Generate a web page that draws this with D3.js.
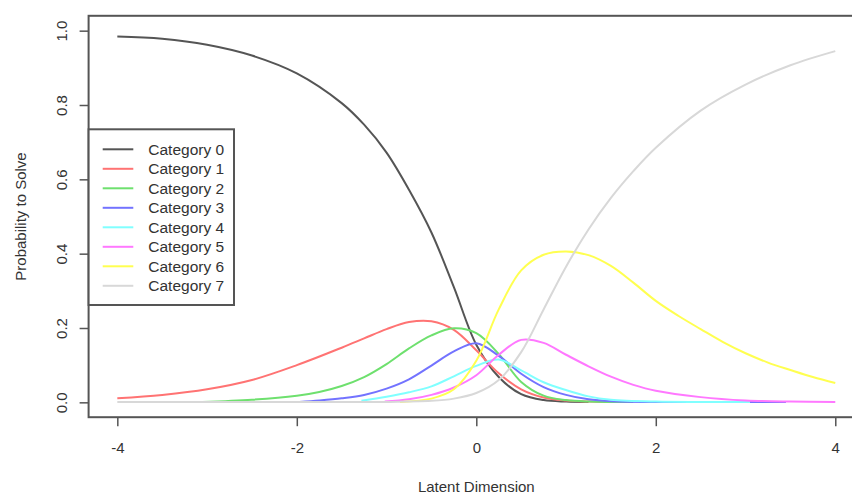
<!DOCTYPE html>
<html>
<head>
<meta charset="utf-8">
<script src="https://cdn.jsdelivr.net/npm/d3@7"></script>
<style>
  body { margin: 0; background: #fff; }
  svg text { font-family: "Liberation Sans", Arial, sans-serif; fill: #333; }
</style>
</head>
<body>
<svg width="852" height="496"></svg>
<script>
// category names and line colours
const categories = ["Category 0", "Category 1", "Category 2", "Category 3",
  "Category 4", "Category 5", "Category 6", "Category 7"];
const colors = ["#555555", "#ff7373", "#6ee06e", "#7373ff",
  "#80ffff", "#ff78ff", "#ffff50", "#d8d8d8"];

// values (theta, probability)
const cat0X = [-4, -3.5, -3, -2.5, -2, -1.5, -1.25, -1, -0.75, -0.5, -0.25, 0, 0.25, 0.5, 0.75, 1, 1.25];
const cat0Y = [0.984, 0.978, 0.962, 0.933, 0.885, 0.805, 0.747, 0.672, 0.572, 0.457, 0.31, 0.155, 0.068, 0.022, 0.006, 0.002, 0.001];

const cat1X = [-4, -3.5, -3, -2.5, -2, -1.5, -1.25, -1, -0.75, -0.5, -0.25, 0, 0.25, 0.5, 0.75, 1, 1.25, 1.5];
const cat1Y = [0.011, 0.02, 0.035, 0.06, 0.1, 0.147, 0.172, 0.197, 0.216, 0.218, 0.195, 0.14, 0.078, 0.035, 0.013, 0.005, 0.002, 0.001];

const cat2X = [-3.05, -2.5, -2, -1.75, -1.5, -1.25, -1, -0.75, -0.5, -0.25, 0, 0.25, 0.5, 0.75, 1, 1.25, 1.5, 1.75];
const cat2Y = [0.001, 0.007, 0.018, 0.028, 0.044, 0.068, 0.103, 0.145, 0.18, 0.199, 0.186, 0.13, 0.055, 0.018, 0.006, 0.002, 0.001, 0.001];

const cat3X = [-1.97, -1.75, -1.5, -1.25, -1, -0.75, -0.5, -0.25, 0, 0.25, 0.5, 0.75, 1, 1.25, 1.5, 2, 2.5, 3, 3.45];
const cat3Y = [0.001, 0.005, 0.011, 0.02, 0.037, 0.062, 0.099, 0.137, 0.159, 0.125, 0.077, 0.041, 0.02, 0.008, 0.003, 0.001, 0.001, 0.001, 0.001];

const cat4X = [-1.28, -1, -0.75, -0.5, -0.25, 0, 0.25, 0.5, 0.75, 1, 1.25, 1.5, 2, 2.5, 3.05];
const cat4Y = [0.004, 0.015, 0.027, 0.043, 0.07, 0.098, 0.115, 0.086, 0.054, 0.033, 0.016, 0.007, 0.002, 0.001, 0.001];

const cat5X = [-1.02, -0.75, -0.5, -0.25, 0, 0.25, 0.5, 0.75, 1, 1.25, 1.5, 1.75, 2, 2.5, 3, 3.5, 4];
const cat5Y = [0.002, 0.008, 0.02, 0.04, 0.073, 0.128, 0.168, 0.16, 0.128, 0.097, 0.069, 0.047, 0.031, 0.014, 0.005, 0.002, 0.001];

const cat6X = [-0.85, -0.5, -0.25, 0, 0.25, 0.5, 0.75, 1, 1.25, 1.5, 1.75, 2, 2.25, 2.5, 2.75, 3, 3.25, 3.5, 3.75, 4];
const cat6Y = [0.001, 0.01, 0.035, 0.112, 0.25, 0.355, 0.397, 0.406, 0.396, 0.367, 0.322, 0.273, 0.233, 0.197, 0.162, 0.132, 0.107, 0.087, 0.068, 0.052];

const cat7X = [-4, -3, -2, -1.5, -1, -0.5, -0.25, 0, 0.25, 0.5, 0.75, 1, 1.25, 1.5, 1.75, 2, 2.5, 3, 3.5, 4];
const cat7Y = [0.001, 0.001, 0.001, 0.001, 0.001, 0.004, 0.01, 0.025, 0.06, 0.135, 0.25, 0.365, 0.465, 0.55, 0.622, 0.685, 0.785, 0.855, 0.907, 0.945];

const xTicks = [-4, -2, 0, 2, 4];
const yTicks = [0, 0.2, 0.4, 0.6, 0.8, 1.0];

const seriesX = [cat0X, cat1X, cat2X, cat3X, cat4X, cat5X, cat6X, cat7X];
const seriesY = [cat0Y, cat1Y, cat2Y, cat3Y, cat4Y, cat5Y, cat6Y, cat7Y];

const svg = d3.select("svg");

// plot region (R style: 4% padding around the data range)
const box = { left: 88.6, right: 864, top: 15.8, bottom: 417.2 };

const x = d3.scaleLinear()
  .domain([-4.32, 4.32])
  .range([box.left, box.right]);
const y = d3.scaleLinear()
  .domain([-0.04, 1.04])
  .range([box.bottom, box.top]);

// curves
const line = d3.line()
  .x(d => x(d[0]))
  .y(d => y(d[1]))
  .curve(d3.curveCatmullRom.alpha(0.5));

svg.append("g")
  .selectAll("path")
  .data(seriesX.map((xs, i) => xs.map((v, j) => [v, seriesY[i][j]])))
  .join("path")
  .attr("d", line)
  .attr("fill", "none")
  .attr("stroke", (d, i) => colors[i])
  .attr("stroke-width", 2);

// axes
const xAxis = svg.append("g")
  .attr("transform", `translate(0,${box.bottom})`)
  .call(d3.axisBottom(x).tickValues(xTicks).tickSize(9).tickPadding(0).tickFormat(d => String(d)));
xAxis.select(".domain").remove();
xAxis.selectAll("line").attr("stroke", "#555").attr("stroke-width", 1.5);
xAxis.selectAll("text")
  .attr("y", 36)
  .attr("dy", null)
  .style("font-size", "15px");

const yAxis = svg.append("g")
  .attr("transform", `translate(${box.left},0)`)
  .call(d3.axisLeft(y).tickValues(yTicks).tickSize(9).tickFormat(d3.format(".1f")));
yAxis.select(".domain").remove();
yAxis.selectAll("line").attr("stroke", "#555").attr("stroke-width", 1.5);
yAxis.selectAll("text")
  .attr("x", null)
  .attr("dy", null)
  .attr("text-anchor", "middle")
  .attr("transform", `translate(-22,0) rotate(-90)`)
  .style("font-size", "15px");

// frame
svg.append("rect")
  .attr("x", box.left)
  .attr("y", box.top)
  .attr("width", box.right - box.left)
  .attr("height", box.bottom - box.top)
  .attr("fill", "none")
  .attr("stroke", "#555")
  .attr("stroke-width", 2);

// axis titles
svg.append("text")
  .attr("x", (box.left + box.right) / 2)
  .attr("y", 492)
  .attr("text-anchor", "middle")
  .style("font-size", "15px")
  .text("Latent Dimension");

svg.append("text")
  .attr("transform", `translate(26,${(box.top + box.bottom) / 2}) rotate(-90)`)
  .attr("text-anchor", "middle")
  .style("font-size", "15px")
  .text("Probability to Solve");

// legend
const legend = svg.append("g");
legend.append("rect")
  .attr("x", 88.6)
  .attr("y", 129.3)
  .attr("width", 234 - 88.6)
  .attr("height", 305 - 129.3)
  .attr("fill", "#fff")
  .attr("stroke", "#555")
  .attr("stroke-width", 2);

const rows = legend.selectAll("g.row")
  .data(categories)
  .join("g")
  .attr("class", "row")
  .attr("transform", (d, i) => `translate(0,${149.3 + i * 19.5})`);
rows.append("line")
  .attr("x1", 102.7).attr("x2", 133.3)
  .attr("stroke", (d, i) => colors[i])
  .attr("stroke-width", 2);
rows.append("text")
  .attr("x", 148.3)
  .attr("dy", "0.36em")
  .style("font-size", "15.5px")
  .text(d => d);
</script>
</body>
</html>
